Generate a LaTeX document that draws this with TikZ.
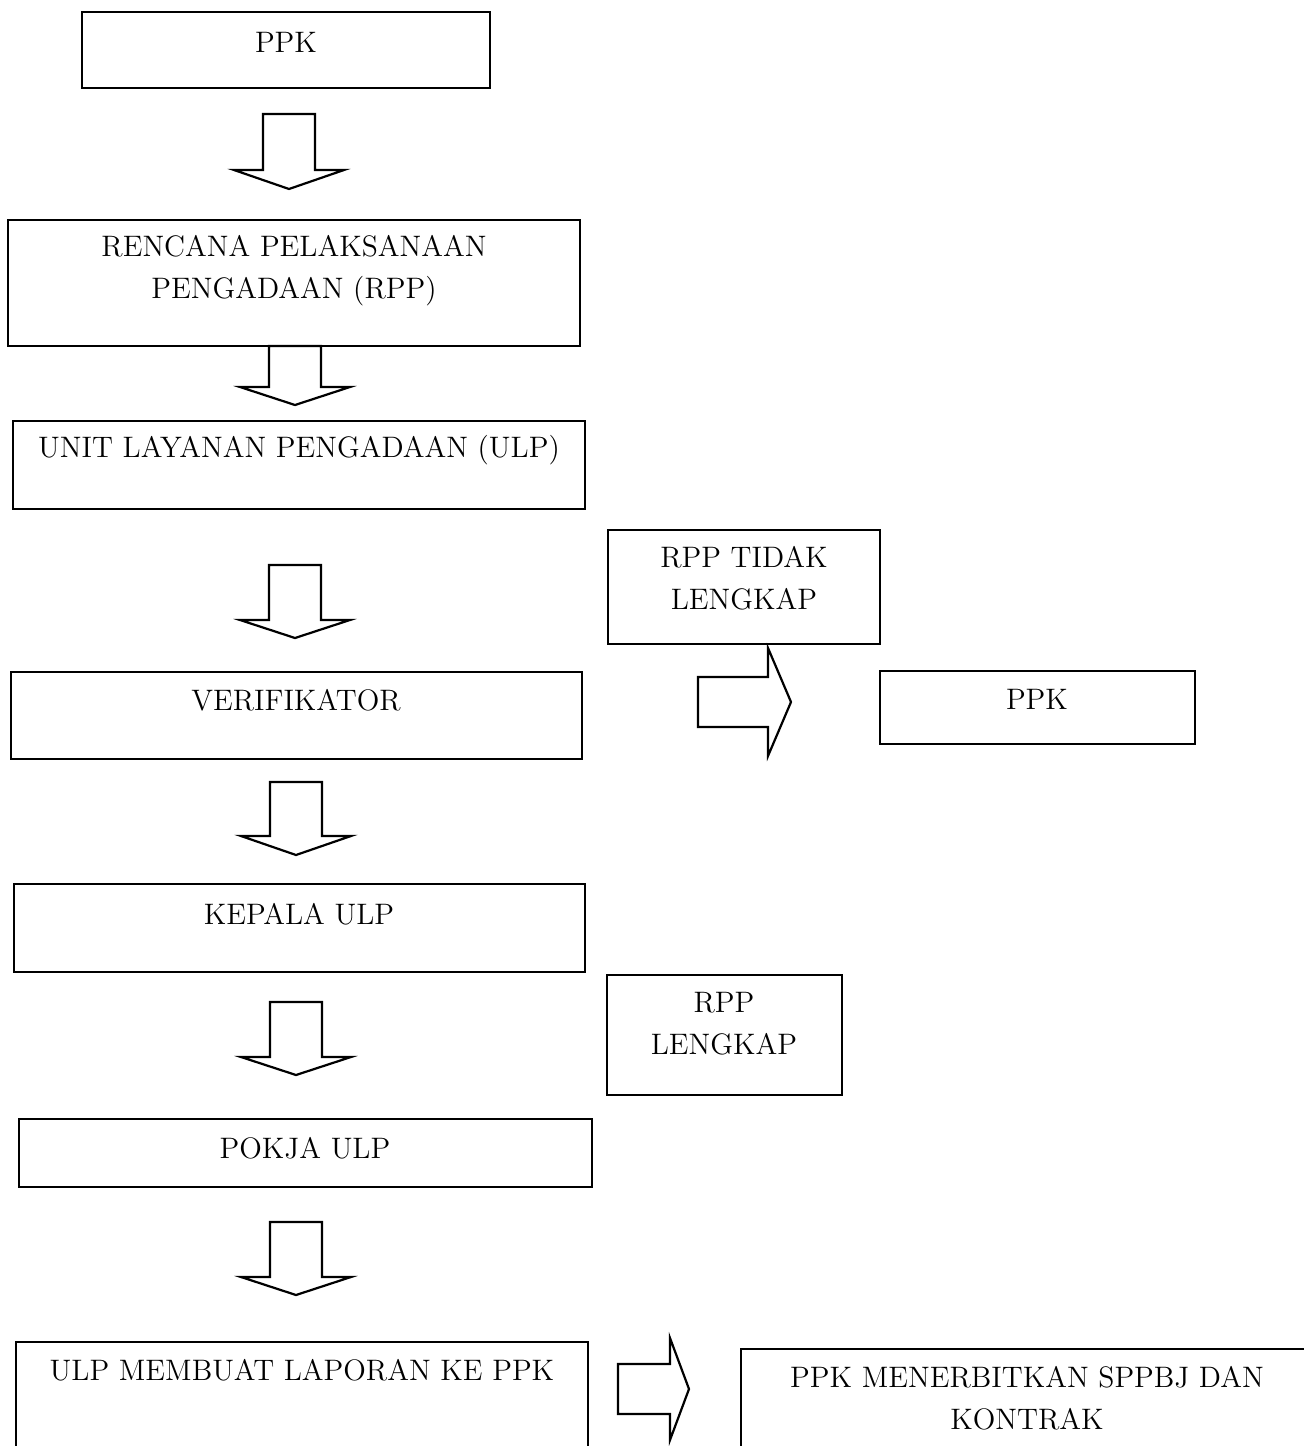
\documentclass[tikz,border=0pt]{standalone}
\usepackage{fontspec}
\begin{document}
\begin{tikzpicture}[x=0.5pt,y=-0.5pt,line join=miter,
  box/.style={draw,line width=1.4pt},
  blk/.style={draw,line width=1.1pt},
  lbl/.style={font=\fontsize{14.8}{21}\selectfont,align=center,inner sep=0pt}]
  \useasboundingbox (0,0) rectangle (1304,1446);
  \clip (0,0) rectangle (1304,1446);
  % boxes
  \draw[box] (82,12) rectangle (490,88);
  \draw[box] (8,220) rectangle (580,346);
  \draw[box] (13,421) rectangle (585,509);
  \draw[box] (11,672) rectangle (582,759);
  \draw[box] (14,884) rectangle (585,972);
  \draw[box] (19,1119) rectangle (592,1187);
  \draw[box] (16,1342) rectangle (588,1470);
  \draw[box] (608,530) rectangle (880,644);
  \draw[box] (880,671) rectangle (1195,744);
  \draw[box] (607,975) rectangle (842,1095);
  \draw[box] (741,1349) rectangle (1330,1470);
  % labels
  \node[lbl] (ppka) at (286,42) {PPK};
  \node[lbl] (rpp) at (294,271) {RENCANA PELAKSANAAN\\PENGADAAN (RPP)};
  \node[lbl] (ulp) at (299,450) {UNIT LAYANAN PENGADAAN (ULP)};
  \node[lbl] (verif) at (296,700) {VERIFIKATOR};
  \node[lbl] (kepala) at (299,914) {KEPALA ULP};
  \node[lbl] (pokja) at (305,1148) {POKJA ULP};
  \node[lbl] (lapor) at (302,1370) {ULP MEMBUAT LAPORAN KE PPK};
  \node[lbl] (tidak) at (744,578) {RPP TIDAK\\LENGKAP};
  \node[lbl] (ppkb) at (1037,699) {PPK};
  \node[lbl] (lengkap) at (724,1024) {RPP\\LENGKAP};
  \node[lbl] (kontrak) at (1027,1398) {PPK MENERBITKAN SPPBJ DAN\\KONTRAK};
  % block arrows down
  \foreach \cx/\yt/\yh/\yb in {289/114/170/189,295/346/387/405,295/565/620/638,
      296/782/836/855,296/1002/1057/1075,296/1222/1277/1295}
    \draw[blk] (\cx-26,\yt) -- (\cx+26,\yt) -- (\cx+26,\yh) -- (\cx+55,\yh)
      -- (\cx,\yb) -- (\cx-55,\yh) -- (\cx-26,\yh) -- cycle;
  % block arrows right
  \foreach \xl/\xh/\xt/\cy/\hh in {698/768/791/702/54,618/670/689/1389/51}
    \draw[blk] (\xl,\cy-25) -- (\xh,\cy-25) -- (\xh,\cy-\hh) -- (\xt,\cy)
      -- (\xh,\cy+\hh) -- (\xh,\cy+25) -- (\xl,\cy+25) -- cycle;
\end{tikzpicture}
\end{document}
